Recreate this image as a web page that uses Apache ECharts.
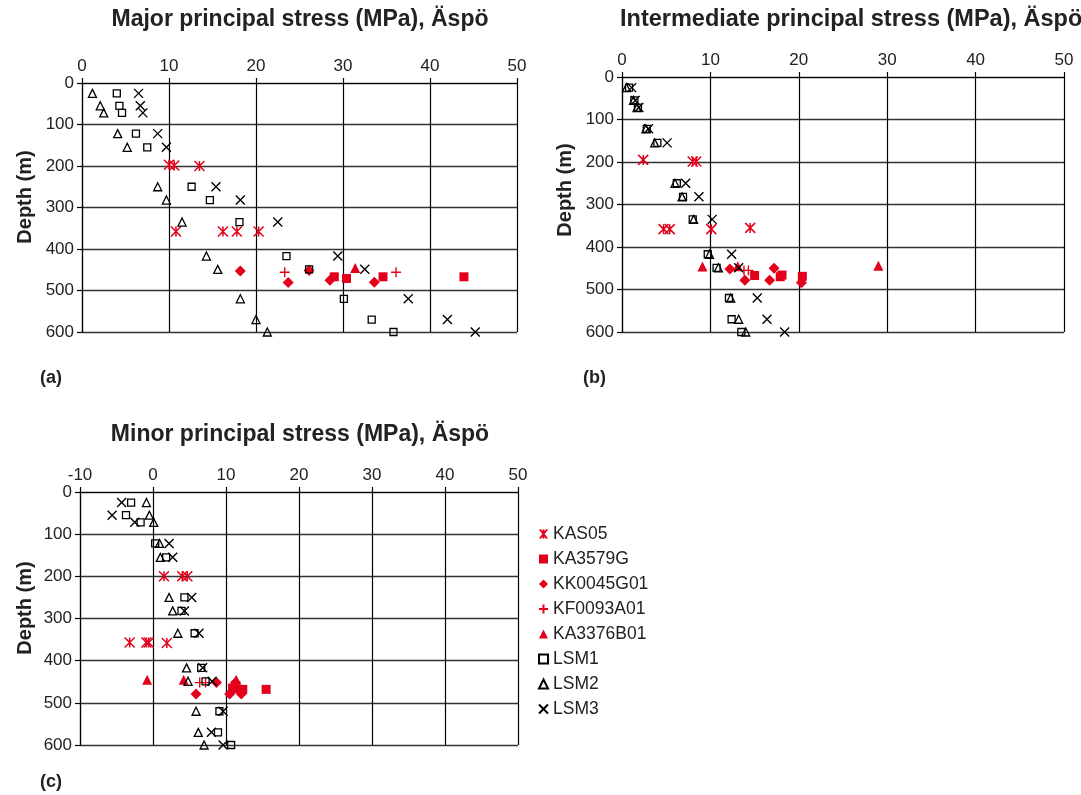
<!DOCTYPE html>
<html>
<head>
<meta charset="utf-8">
<title>Principal stresses, Äspö</title>
<script src="https://cdn.jsdelivr.net/npm/echarts@6/dist/echarts.min.js"></script>
<style>
  html, body { margin: 0; padding: 0; background: #fff; }
  #chart { width: 1081px; height: 795px; }
</style>
</head>
<body>
<div id="chart"></div>
<script>
// ---- Data: stress (MPa) against depth (m) ----
const seriesNames = ['KAS05', 'KA3579G', 'KK0045G01', 'KF0093A01', 'KA3376B01', 'LSM1', 'LSM2', 'LSM3'];
const stressTicks = [0, 10, 20, 30, 40, 50];
const minorTicks = [-10, 0, 10, 20, 30, 40, 50];
const depthTicks = [0, 100, 200, 300, 400, 500, 600];

// depths of the LSM model points
const lsmDepth = [25, 55, 72, 122, 155, 250, 282, 335, 417, 449, 520, 570, 600];

// Major principal stress
const majorLSM1 = [4.0, 4.3, 4.6, 6.2, 7.5, 12.6, 14.7, 18.1, 23.5, 26.1, 30.1, 33.3, 35.8];
const majorLSM2 = [1.2, 2.1, 2.5, 4.1, 5.2, 8.7, 9.7, 11.5, 14.3, 15.6, 18.2, 20.0, 21.3];
const majorLSM3 = [6.5, 6.7, 7.0, 8.7, 9.7, 15.4, 18.2, 22.5, 29.4, 32.5, 37.5, 42.0, 45.2];
const majorKAS05 = [[10.0, 197], [10.6, 199], [13.5, 200], [10.8, 358], [16.2, 358], [17.8, 358], [20.3, 358]];
const majorKA3579G = [[29.0, 467], [30.4, 471], [34.6, 467], [43.9, 467]];
const majorKK0045G01 = [[18.2, 453], [26.1, 452], [28.5, 475], [23.7, 481], [33.6, 480]];
const majorKF0093A01 = [[23.3, 456], [36.1, 456]];
const majorKA3376B01 = [[31.4, 446]];

// Intermediate principal stress
const interLSM1 = [0.8, 1.4, 1.8, 2.8, 4.0, 6.2, 6.9, 8.0, 9.7, 10.7, 12.1, 12.4, 13.5];
const interLSM2 = [0.5, 1.3, 1.7, 2.7, 3.7, 6.0, 6.8, 8.1, 9.9, 10.9, 12.3, 13.2, 14.0];
const interLSM3 = [1.1, 1.5, 1.9, 3.0, 5.1, 7.2, 8.7, 10.2, 12.4, 13.2, 15.3, 16.4, 18.4];
const interKAS05 = [[2.4, 195], [8.0, 199], [8.4, 199], [4.7, 358], [5.4, 358], [10.1, 358], [14.5, 355]];
const interKA3579G = [[15.0, 467], [17.9, 470], [18.1, 466], [20.4, 469]];
const interKK0045G01 = [[12.2, 452], [17.2, 450], [13.9, 478], [16.7, 478], [20.3, 484]];
const interKF0093A01 = [[13.8, 455], [14.3, 455]];
const interKA3376B01 = [[9.1, 446], [13.1, 445], [29.0, 444]];

// Minor principal stress
const minorLSM1 = [-3.0, -3.7, -1.7, 0.3, 1.8, 4.3, 3.9, 5.7, 6.6, 7.2, 9.1, 8.9, 10.7];
const minorLSM2 = [-0.9, -0.5, 0.1, 0.9, 1.0, 2.2, 2.7, 3.4, 4.6, 4.8, 5.9, 6.2, 7.0];
const minorLSM3 = [-4.3, -5.6, -2.5, 2.2, 2.7, 5.3, 4.3, 6.3, 6.8, 8.1, 9.6, 8.0, 9.6];
const minorKAS05 = [[1.5, 200], [4.0, 200], [4.7, 200], [-3.2, 357], [-0.9, 357], [-0.6, 357], [1.9, 358]];
const minorKA3579G = [[10.9, 465], [11.2, 467], [12.3, 468], [15.5, 468]];
const minorKK0045G01 = [[8.7, 452], [11.3, 452], [5.9, 479], [10.5, 479], [12.1, 479]];
const minorKF0093A01 = [[6.4, 452], [7.2, 452]];
const minorKA3376B01 = [[-0.8, 445], [4.2, 445], [11.4, 445]];

// ---- Styling ----
const RED = '#e3001b';
const INK = '#000';
const TEXT = '#222';
const FONT = '"Liberation Sans", Arial, sans-serif';
const CLEAR = 'rgba(0,0,0,0)';

const SYM_ASTERISK = 'path://M1,0L9,10M9,0L1,10M5,0L5,10';
const SYM_PLUS = 'path://M5,0L5,10M0,5L10,5';
const SYM_CROSS = 'path://M0,0L10,10M10,0L0,10';

const markerStyles = {
  KAS05:     { symbol: SYM_ASTERISK, symbolSize: 10, itemStyle: { color: CLEAR, borderColor: RED, borderWidth: 1.5 } },
  KA3579G:   { symbol: 'rect', symbolSize: 9, itemStyle: { color: RED, borderWidth: 0 } },
  KK0045G01: { symbol: 'diamond', symbolSize: 11, itemStyle: { color: RED, borderWidth: 0 } },
  KF0093A01: { symbol: SYM_PLUS, symbolSize: 10, itemStyle: { color: CLEAR, borderColor: RED, borderWidth: 1.4 } },
  KA3376B01: { symbol: 'triangle', symbolSize: 10, itemStyle: { color: RED, borderWidth: 0 } },
  LSM1:      { symbol: 'rect', symbolSize: 7, itemStyle: { color: CLEAR, borderColor: INK, borderWidth: 1.3 } },
  LSM2:      { symbol: 'triangle', symbolSize: [8, 8], itemStyle: { color: CLEAR, borderColor: INK, borderWidth: 1.3 } },
  LSM3:      { symbol: SYM_CROSS, symbolSize: 9, itemStyle: { color: CLEAR, borderColor: INK, borderWidth: 1.4 } }
};

function zip(xs, ys) { return xs.map((x, i) => [x, ys[i]]); }

const panels = [
  { KAS05: majorKAS05, KA3579G: majorKA3579G, KK0045G01: majorKK0045G01, KF0093A01: majorKF0093A01,
    KA3376B01: majorKA3376B01, LSM1: zip(majorLSM1, lsmDepth), LSM2: zip(majorLSM2, lsmDepth), LSM3: zip(majorLSM3, lsmDepth) },
  { KAS05: interKAS05, KA3579G: interKA3579G, KK0045G01: interKK0045G01, KF0093A01: interKF0093A01,
    KA3376B01: interKA3376B01, LSM1: zip(interLSM1, lsmDepth), LSM2: zip(interLSM2, lsmDepth), LSM3: zip(interLSM3, lsmDepth) },
  { KAS05: minorKAS05, KA3579G: minorKA3579G, KK0045G01: minorKK0045G01, KF0093A01: minorKF0093A01,
    KA3376B01: minorKA3376B01, LSM1: zip(minorLSM1, lsmDepth), LSM2: zip(minorLSM2, lsmDepth), LSM3: zip(minorLSM3, lsmDepth) }
];

const grids = [
  { left: 82, top: 83, width: 435, height: 249 },
  { left: 622, top: 77, width: 442, height: 255 },
  { left: 80, top: 492, width: 438, height: 253 }
];
const xRanges = [
  { min: stressTicks[0], max: stressTicks[stressTicks.length - 1] },
  { min: stressTicks[0], max: stressTicks[stressTicks.length - 1] },
  { min: minorTicks[0], max: minorTicks[minorTicks.length - 1] }
];

const xAxes = grids.map((g, i) => ({
  type: 'value', gridIndex: i, position: 'top',
  min: xRanges[i].min, max: xRanges[i].max, interval: 10,
  axisLine: { show: true, onZero: false, lineStyle: { color: INK, width: 1.2 } },
  axisTick: { show: true, inside: false, length: 5, lineStyle: { color: INK, width: 1.2 } },
  axisLabel: { color: TEXT, fontFamily: FONT, fontSize: 17, margin: 8 },
  splitLine: { show: true, lineStyle: { color: INK, width: 1.2 } }
}));

const yAxes = grids.map((g, i) => ({
  type: 'value', gridIndex: i, inverse: true,
  min: depthTicks[0], max: depthTicks[depthTicks.length - 1], interval: 100,
  axisLine: { show: true, onZero: false, lineStyle: { color: INK, width: 1.2 } },
  axisTick: { show: true, inside: false, length: 5, lineStyle: { color: INK, width: 1.2 } },
  axisLabel: { color: TEXT, fontFamily: FONT, fontSize: 17, margin: 8 },
  splitLine: { show: true, lineStyle: { color: '#333', width: 1.4 } }
}));

const series = [];
panels.forEach((panel, i) => {
  seriesNames.forEach(name => {
    const m = markerStyles[name];
    series.push({
      type: 'scatter', name: name, xAxisIndex: i, yAxisIndex: i,
      symbol: m.symbol, symbolSize: m.symbolSize,
      itemStyle: Object.assign({ opacity: 1 }, m.itemStyle),
      data: panel[name], silent: true, animation: false
    });
  });
});

function label(text, x, y, size, align, rotation) {
  return {
    type: 'text', x: x, y: y, rotation: rotation || 0, silent: true,
    style: { text: text, fill: TEXT, font: 'bold ' + size + 'px ' + FONT, textAlign: align, textVerticalAlign: 'middle' }
  };
}

const chart = echarts.init(document.getElementById('chart'), null, { renderer: 'canvas' });
chart.setOption({
  backgroundColor: '#fff',
  animation: false,
  grid: grids,
  xAxis: xAxes,
  yAxis: yAxes,
  legend: {
    data: seriesNames, orient: 'vertical', left: 533, top: 519,
    itemWidth: 9, itemHeight: 9, itemGap: 5,
    textStyle: { color: TEXT, fontFamily: FONT, fontSize: 17.5, lineHeight: 20 },
    selectedMode: false
  },
  graphic: [
    label('Major principal stress (MPa), Äspö', 300, 20, 23, 'center'),
    label('Intermediate principal stress (MPa), Äspö', 620, 20, 23.5, 'left'),
    label('Minor principal stress (MPa), Äspö', 300, 435, 23, 'center'),
    label('Depth (m)', 25, 197, 20, 'center', Math.PI / 2),
    label('Depth (m)', 565, 190, 20, 'center', Math.PI / 2),
    label('Depth (m)', 25, 608, 20, 'center', Math.PI / 2),
    label('(a)', 40, 378, 18, 'left'),
    label('(b)', 583, 378, 18, 'left'),
    label('(c)', 40, 782, 18, 'left')
  ],
  series: series
});
</script>
</body>
</html>
